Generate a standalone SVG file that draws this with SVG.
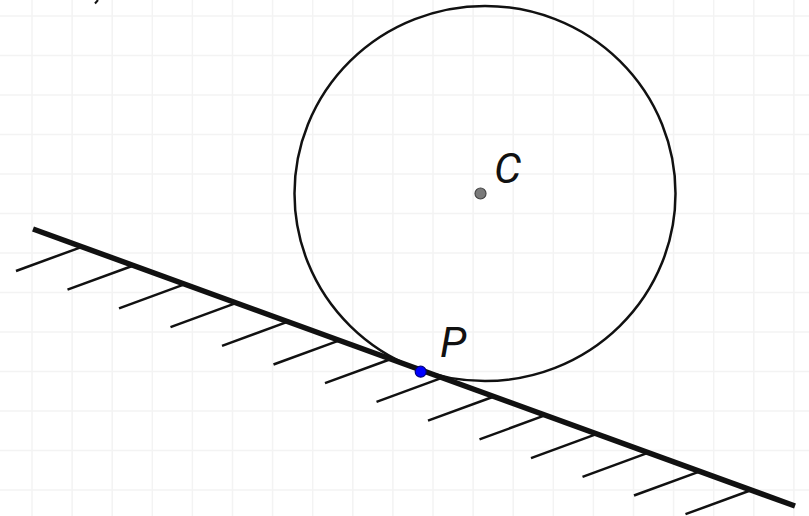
<svg xmlns="http://www.w3.org/2000/svg" width="809" height="516" viewBox="0 0 809 516">
<style>
.grid line{stroke:#f3f3f3;stroke-width:1.5}
.hatch{stroke:#111;stroke-width:2.5;stroke-linecap:butt}
.label{font-family:Roboto,"Liberation Sans",sans-serif;font-style:italic;font-size:43px;fill:#111}
</style>
<rect width="809" height="516" fill="#fff"/>
<g class="grid" id="grid">
<line x1="32" y1="0" x2="32" y2="516"/><line x1="72.1" y1="0" x2="72.1" y2="516"/><line x1="112.2" y1="0" x2="112.2" y2="516"/><line x1="152.3" y1="0" x2="152.3" y2="516"/><line x1="192.4" y1="0" x2="192.4" y2="516"/><line x1="232.5" y1="0" x2="232.5" y2="516"/><line x1="272.6" y1="0" x2="272.6" y2="516"/><line x1="312.7" y1="0" x2="312.7" y2="516"/><line x1="352.8" y1="0" x2="352.8" y2="516"/><line x1="392.9" y1="0" x2="392.9" y2="516"/><line x1="433" y1="0" x2="433" y2="516"/><line x1="473.1" y1="0" x2="473.1" y2="516"/><line x1="513.2" y1="0" x2="513.2" y2="516"/><line x1="553.3" y1="0" x2="553.3" y2="516"/><line x1="593.4" y1="0" x2="593.4" y2="516"/><line x1="633.5" y1="0" x2="633.5" y2="516"/><line x1="673.6" y1="0" x2="673.6" y2="516"/><line x1="713.7" y1="0" x2="713.7" y2="516"/><line x1="753.8" y1="0" x2="753.8" y2="516"/><line x1="793.9" y1="0" x2="793.9" y2="516"/>
<line x1="0" y1="16" x2="809" y2="16"/><line x1="0" y1="55.5" x2="809" y2="55.5"/><line x1="0" y1="95" x2="809" y2="95"/><line x1="0" y1="134.5" x2="809" y2="134.5"/><line x1="0" y1="174" x2="809" y2="174"/><line x1="0" y1="213.5" x2="809" y2="213.5"/><line x1="0" y1="253" x2="809" y2="253"/><line x1="0" y1="292.5" x2="809" y2="292.5"/><line x1="0" y1="332" x2="809" y2="332"/><line x1="0" y1="371.5" x2="809" y2="371.5"/><line x1="0" y1="411" x2="809" y2="411"/><line x1="0" y1="450.5" x2="809" y2="450.5"/><line x1="0" y1="490" x2="809" y2="490"/>
</g>
<line x1="98" y1="0" x2="95" y2="3.5" stroke="#111" stroke-width="2"/>
<g id="ground">
<g class="hatch">
<line x1="82" y1="246.8" x2="16" y2="271"/>
<line x1="133.5" y1="265.5" x2="67.5" y2="289.7"/>
<line x1="185" y1="284.2" x2="119" y2="308.4"/>
<line x1="236.5" y1="302.9" x2="170.5" y2="327.1"/>
<line x1="288" y1="321.6" x2="222" y2="345.8"/>
<line x1="339.5" y1="340.3" x2="273.5" y2="364.5"/>
<line x1="391" y1="359" x2="325" y2="383.2"/>
<line x1="442.5" y1="377.7" x2="376.5" y2="401.9"/>
<line x1="494" y1="396.5" x2="428" y2="420.7"/>
<line x1="545.5" y1="415.2" x2="479.5" y2="439.4"/>
<line x1="597" y1="433.9" x2="531" y2="458.1"/>
<line x1="648.5" y1="452.6" x2="582.5" y2="476.8"/>
<line x1="700" y1="471.3" x2="634" y2="495.5"/>
<line x1="751.5" y1="490" x2="685.5" y2="514.2"/>
</g>
<line x1="33" y1="229" x2="795" y2="506" stroke="#111" stroke-width="5.5"/>
</g>
<g id="circle">
<ellipse cx="485" cy="193.5" rx="190.5" ry="187.5" fill="none" stroke="#111" stroke-width="2.5"/>
</g>
<g id="C">
<circle cx="480.5" cy="193.5" r="5.5" fill="#7a7a7a" stroke="#444" stroke-width="1.2"/>
<text class="label" x="494" y="183">C</text>
</g>
<g id="P">
<circle cx="420.7" cy="371.7" r="5.5" fill="#0000ff" stroke="#00007a" stroke-width="1.2"/>
<text class="label" x="440" y="357">P</text>
</g>
</svg>
